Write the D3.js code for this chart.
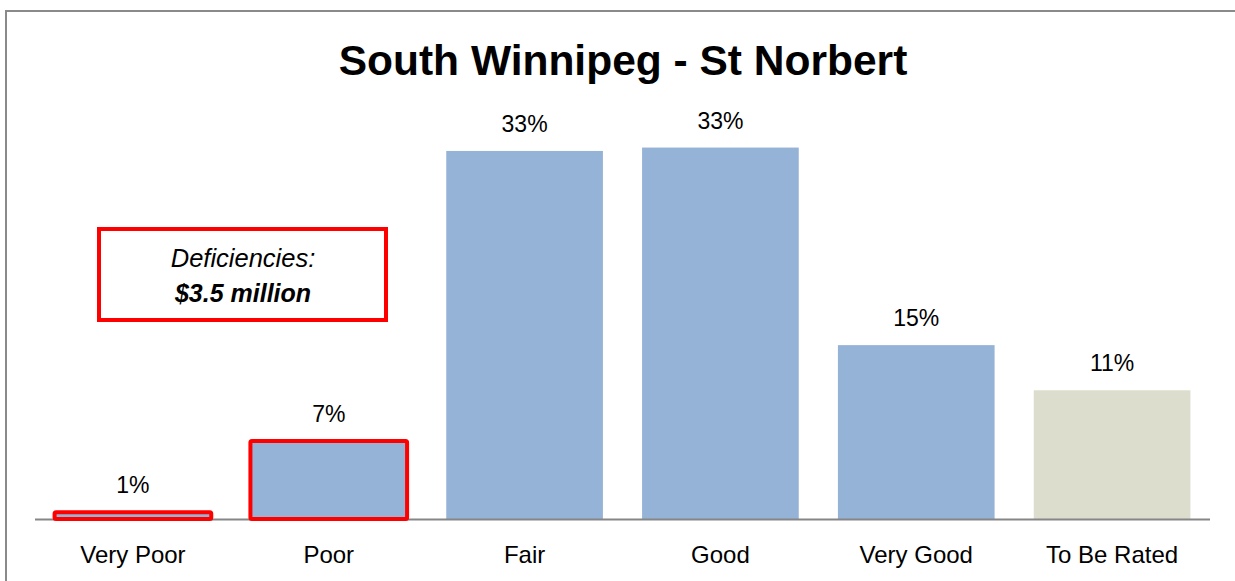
<!DOCTYPE html>
<html>
<head>
<meta charset="utf-8">
<script src="https://cdn.jsdelivr.net/npm/d3@7"></script>
<style>
  html, body { margin: 0; padding: 0; background: #fff; }
  svg { display: block; }
  text { font-family: "Liberation Sans", Arial, sans-serif; fill: #000; }
</style>
</head>
<body>
<svg id="chart" width="1235" height="581"></svg>
<script>
// Condition ratings for the ward's assets (share of total, %)
const categories = ["Very Poor", "Poor", "Fair", "Good", "Very Good", "To Be Rated"];
const shares = [0.6, 6.9, 32.6, 32.9, 15.4, 11.4];
const deficientCategories = ["Very Poor", "Poor"];
const unratedCategories = ["To Be Rated"];
const chartTitle = "South Winnipeg - St Norbert";
const noteLines = ["Deficiencies:", "$3.5 million"];

const svg = d3.select("#chart");
const W = 1235, H = 581;

// outer frame
svg.append("rect")
  .attr("x", 6).attr("y", 11)
  .attr("width", W + 10).attr("height", H + 10)
  .attr("fill", "#fff")
  .attr("stroke", "#8a8a8a")
  .attr("stroke-width", 2);

const x = d3.scaleBand()
  .domain(categories)
  .range([35, 1210])
  .paddingInner(0.2)
  .paddingOuter(0.1);

const y = d3.scaleLinear()
  .domain([0, 40])
  .range([519, 67.4]);

const data = categories.map((c, i) => ({ cat: c, v: shares[i] }));

// bars
svg.append("g").selectAll("rect")
  .data(data)
  .join("rect")
  .attr("x", d => x(d.cat))
  .attr("y", d => y(d.v))
  .attr("width", x.bandwidth())
  .attr("height", d => y(0) - y(d.v))
  .attr("fill", d => unratedCategories.includes(d.cat) ? "#dcddcc" : "#95b3d6");

// category axis
const xAxis = svg.append("g")
  .attr("transform", `translate(0,${y(0)})`)
  .call(d3.axisBottom(x).tickSize(0).tickPadding(0));
xAxis.select(".domain")
  .attr("d", `M35,0.5H1210`)
  .attr("stroke", "#868686")
  .attr("stroke-width", 2);
xAxis.selectAll(".tick text")
  .attr("dy", null)
  .attr("y", 44)
  .style("font-family", '"Liberation Sans", Arial, sans-serif')
  .style("font-size", "24px")
  .attr("fill", "#000");

// red outline around deficient bars
svg.append("g").selectAll("rect")
  .data(data.filter(d => deficientCategories.includes(d.cat)))
  .join("rect")
  .attr("x", d => x(d.cat))
  .attr("y", d => y(d.v))
  .attr("width", x.bandwidth())
  .attr("height", d => y(0) - y(d.v))
  .attr("fill", "none")
  .attr("stroke", "#ff0000")
  .attr("stroke-width", 4)
  .attr("rx", 1.5);

// value labels
svg.append("g").selectAll("text")
  .data(data)
  .join("text")
  .attr("x", d => x(d.cat) + x.bandwidth() / 2)
  .attr("y", d => y(d.v) - 19)
  .attr("text-anchor", "middle")
  .style("font-size", "23px")
  .text(d => Math.round(d.v) + "%");

// title
svg.append("text")
  .attr("x", 623).attr("y", 75)
  .attr("text-anchor", "middle")
  .style("font-size", "42.5px")
  .style("font-weight", "bold")
  .text(chartTitle);

// deficiency note
const note = svg.append("g");
note.append("rect")
  .attr("x", 99).attr("y", 229)
  .attr("width", 287).attr("height", 91)
  .attr("fill", "#fff")
  .attr("stroke", "#ff0000")
  .attr("stroke-width", 4);
note.append("text")
  .attr("x", 243).attr("y", 267)
  .attr("text-anchor", "middle")
  .style("font-size", "25.5px")
  .style("font-style", "italic")
  .text(noteLines[0]);
note.append("text")
  .attr("x", 243).attr("y", 302)
  .attr("text-anchor", "middle")
  .style("font-size", "25px")
  .style("font-style", "italic")
  .style("font-weight", "bold")
  .text(noteLines[1]);
</script>
</body>
</html>
